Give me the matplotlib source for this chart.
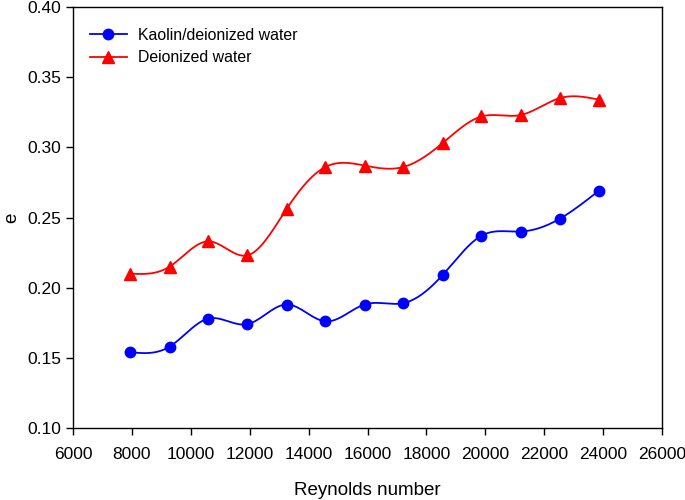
import matplotlib
matplotlib.use('Agg')
import matplotlib.pyplot as plt
import numpy as np

plt.rcParams['font.family'] = ['Liberation Sans', 'DejaVu Sans']

reynolds = [7950, 9280, 10600, 11920, 13250, 14570, 15900, 17220, 18550, 19870, 21200, 22520, 23850]
e_kaolin = [0.154, 0.158, 0.178, 0.174, 0.188, 0.176, 0.188, 0.189, 0.209, 0.237, 0.240, 0.249, 0.269]
e_water = [0.210, 0.215, 0.233, 0.223, 0.256, 0.286, 0.287, 0.286, 0.303, 0.322, 0.323, 0.335, 0.334]


def natural_spline(x, y, n=400):
    # plain natural cubic spline, just for drawing the smooth curve
    x = np.asarray(x, float)
    y = np.asarray(y, float)
    k = len(x)
    h = np.diff(x)
    A = np.zeros((k, k))
    b = np.zeros(k)
    A[0, 0] = A[-1, -1] = 1
    for i in range(1, k - 1):
        A[i, i - 1] = h[i - 1]
        A[i, i] = 2 * (h[i - 1] + h[i])
        A[i, i + 1] = h[i]
        b[i] = 3 * ((y[i + 1] - y[i]) / h[i] - (y[i] - y[i - 1]) / h[i - 1])
    c = np.linalg.solve(A, b)
    xs = np.linspace(x[0], x[-1], n)
    idx = np.clip(np.searchsorted(x, xs) - 1, 0, k - 2)
    dx = xs - x[idx]
    bb = (y[idx + 1] - y[idx]) / h[idx] - h[idx] * (2 * c[idx] + c[idx + 1]) / 3
    d = (c[idx + 1] - c[idx]) / (3 * h[idx])
    ys = y[idx] + bb * dx + c[idx] * dx ** 2 + d * dx ** 3
    return xs, ys


fig = plt.figure(figsize=(6.85, 5.0), dpi=100)
ax = fig.add_axes([0.1066, 0.144, 0.8598, 0.842])

for xs_, ys_, col, mk, ms, lab in [
    (reynolds, e_kaolin, 'blue', 'o', 7.5, 'Kaolin/deionized water'),
    (reynolds, e_water, 'red', '^', 8.5, 'Deionized water'),
]:
    sx, sy = natural_spline(xs_, ys_)
    ax.plot(sx, sy, color=col, lw=1.3)
    ax.plot(xs_, ys_, linestyle='none', marker=mk, color=col, ms=ms)
    ax.plot([], [], color=col, lw=1.3, marker=mk, ms=ms, label=lab)

ax.set_xlim(6000, 26000)
ax.set_ylim(0.10, 0.40)
ax.set_xticks(np.arange(6000, 26001, 2000))
ax.set_yticks(np.arange(0.10, 0.401, 0.05))
ax.set_yticklabels(['%.2f' % v for v in np.arange(0.10, 0.401, 0.05)])
ax.tick_params(direction='out', length=5, width=1, labelsize=12.5, colors='black')
ax.tick_params(axis='x', pad=9)
for s in ax.spines.values():
    s.set_linewidth(1.0)

ax.set_xlabel('Reynolds number', fontsize=13.5)
ax.set_ylabel('e', fontsize=13.5)
ax.xaxis.set_label_coords(0.5, -0.128)
ax.yaxis.set_label_coords(-0.09, 0.5)

handles, labels = ax.get_legend_handles_labels()
ax.legend(handles[-2:], labels[-2:], loc='upper left', frameon=False, fontsize=11.4,
          bbox_to_anchor=(0.005, 0.985), handlelength=2.3, handletextpad=0.7,
          labelspacing=0.5)

fig.savefig('out.png', dpi=100)
